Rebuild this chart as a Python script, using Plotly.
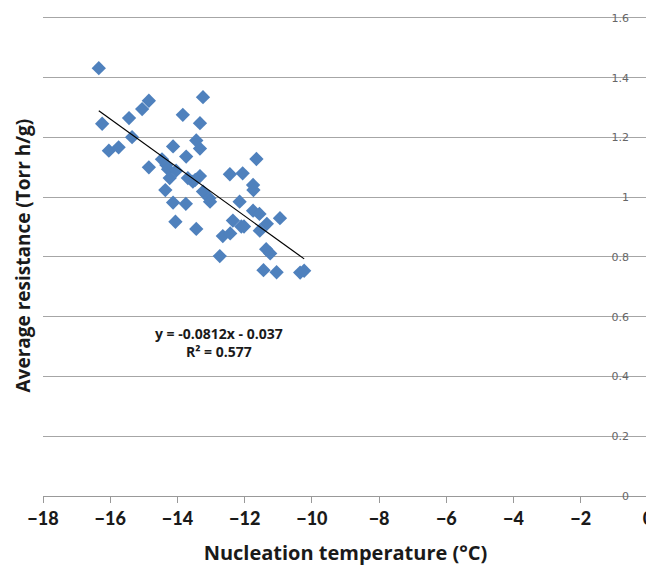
import plotly.graph_objects as go

# Data
temps = [-16.34, -16.24, -16.04, -15.75, -15.44, -15.35, -15.05, -14.85, -14.85, -13.84,
         -13.24, -13.33, -13.44, -13.33, -14.13, -13.74, -14.46, -14.33, -14.28, -14.04,
         -14.23, -13.69, -13.54, -13.33, -14.36, -13.24, -13.05, -13.03, -14.13, -13.75,
         -14.06, -13.44, -12.44, -12.06, -11.65, -11.75, -11.74, -12.15, -11.75, -11.56,
         -10.95, -11.34, -12.35, -12.10, -12.02, -11.55, -12.65, -12.43, -12.74, -11.36,
         -11.24, -11.44, -11.05, -10.35, -10.23, -13.47]
resist = [1.432, 1.246, 1.156, 1.167, 1.265, 1.201, 1.295, 1.323, 1.100, 1.276,
          1.335, 1.248, 1.190, 1.163, 1.170, 1.136, 1.127, 1.108, 1.094, 1.089,
          1.064, 1.064, 1.052, 1.071, 1.024, 1.019, 0.997, 0.985, 0.982, 0.978,
          0.918, 0.894, 1.077, 1.080, 1.128, 1.041, 1.024, 0.985, 0.955, 0.944,
          0.930, 0.911, 0.922, 0.902, 0.902, 0.888, 0.870, 0.879, 0.803, 0.826,
          0.812, 0.756, 0.749, 0.748, 0.754, 1.058]

slope = -0.0812
intercept = -0.037
r2 = 0.577

x_ticks = [-18, -16, -14, -12, -10, -8, -6, -4, -2, 0]
y_ticks = [0, 0.2, 0.4, 0.6, 0.8, 1.0, 1.2, 1.4, 1.6]

tx = [min(temps), max(temps)]
ty = [slope * v + intercept for v in tx]

fig = go.Figure()
fig.add_trace(go.Scatter(
    x=temps, y=resist, mode="markers",
    marker=dict(symbol="diamond", size=11, color="#4f81bd"),
    showlegend=False, hoverinfo="skip", cliponaxis=False))
fig.add_trace(go.Scatter(
    x=tx, y=ty, mode="lines",
    line=dict(color="#000000", width=1.2),
    showlegend=False, hoverinfo="skip"))

fig.update_layout(
    width=654, height=568,
    margin=dict(l=35, r=14, t=7, b=80, autoexpand=False),
    paper_bgcolor="white", plot_bgcolor="white",
    font=dict(family="Open Sans, sans-serif"),
    xaxis=dict(
        range=[-18, 0], tickvals=x_ticks, automargin=False,
        showgrid=False, zeroline=False,
        showline=True, linecolor="#999999", linewidth=1,
        ticks="outside", ticklen=6, tickcolor="#999999",
        ticklabeloverflow="allow",
        tickfont=dict(size=18, color="#1a1a1a", family="Lato Black, Lato, sans-serif"),
        title=dict(text="<b>Nucleation temperature (°C)</b>",
                   font=dict(size=20, color="#1a1a1a"), standoff=18),
    ),
    yaxis=dict(
        range=[0, 1.61], tickvals=y_ticks, automargin=False,
        side="right", ticklabelposition="inside",
        ticklabeloverflow="allow", ticklabelstandoff=16,
        showgrid=True, gridcolor="#a6a6a6", gridwidth=1,
        zeroline=False,
        showline=False,
        ticks="",
        tickfont=dict(size=11, color="#666666", family="DejaVu Sans, sans-serif"),
    ),
    shapes=[
        dict(type="line", xref="x", yref="y", x0=x_ticks[-1], x1=x_ticks[-1],
             y0=y_ticks[0], y1=y_ticks[-1], line=dict(color="#999999", width=1)),
    ],
    annotations=[
        dict(text="<b>Average resistance (Torr h/g)</b>", xref="paper", yref="paper",
             x=0, y=0.5, xanchor="center", yanchor="middle", xshift=-21,
             textangle=-90, showarrow=False,
             font=dict(size=19, color="#1a1a1a")),
        dict(text=f"<b>y = {slope}x - {abs(intercept)}<br>R² = {r2}</b>",
             xref="x", yref="y", x=-12.75, y=0.513, xanchor="center", yanchor="middle",
             showarrow=False,
             font=dict(size=14, color="#1a1a1a"), align="center"),
    ],
)

fig.write_html("out.html")
